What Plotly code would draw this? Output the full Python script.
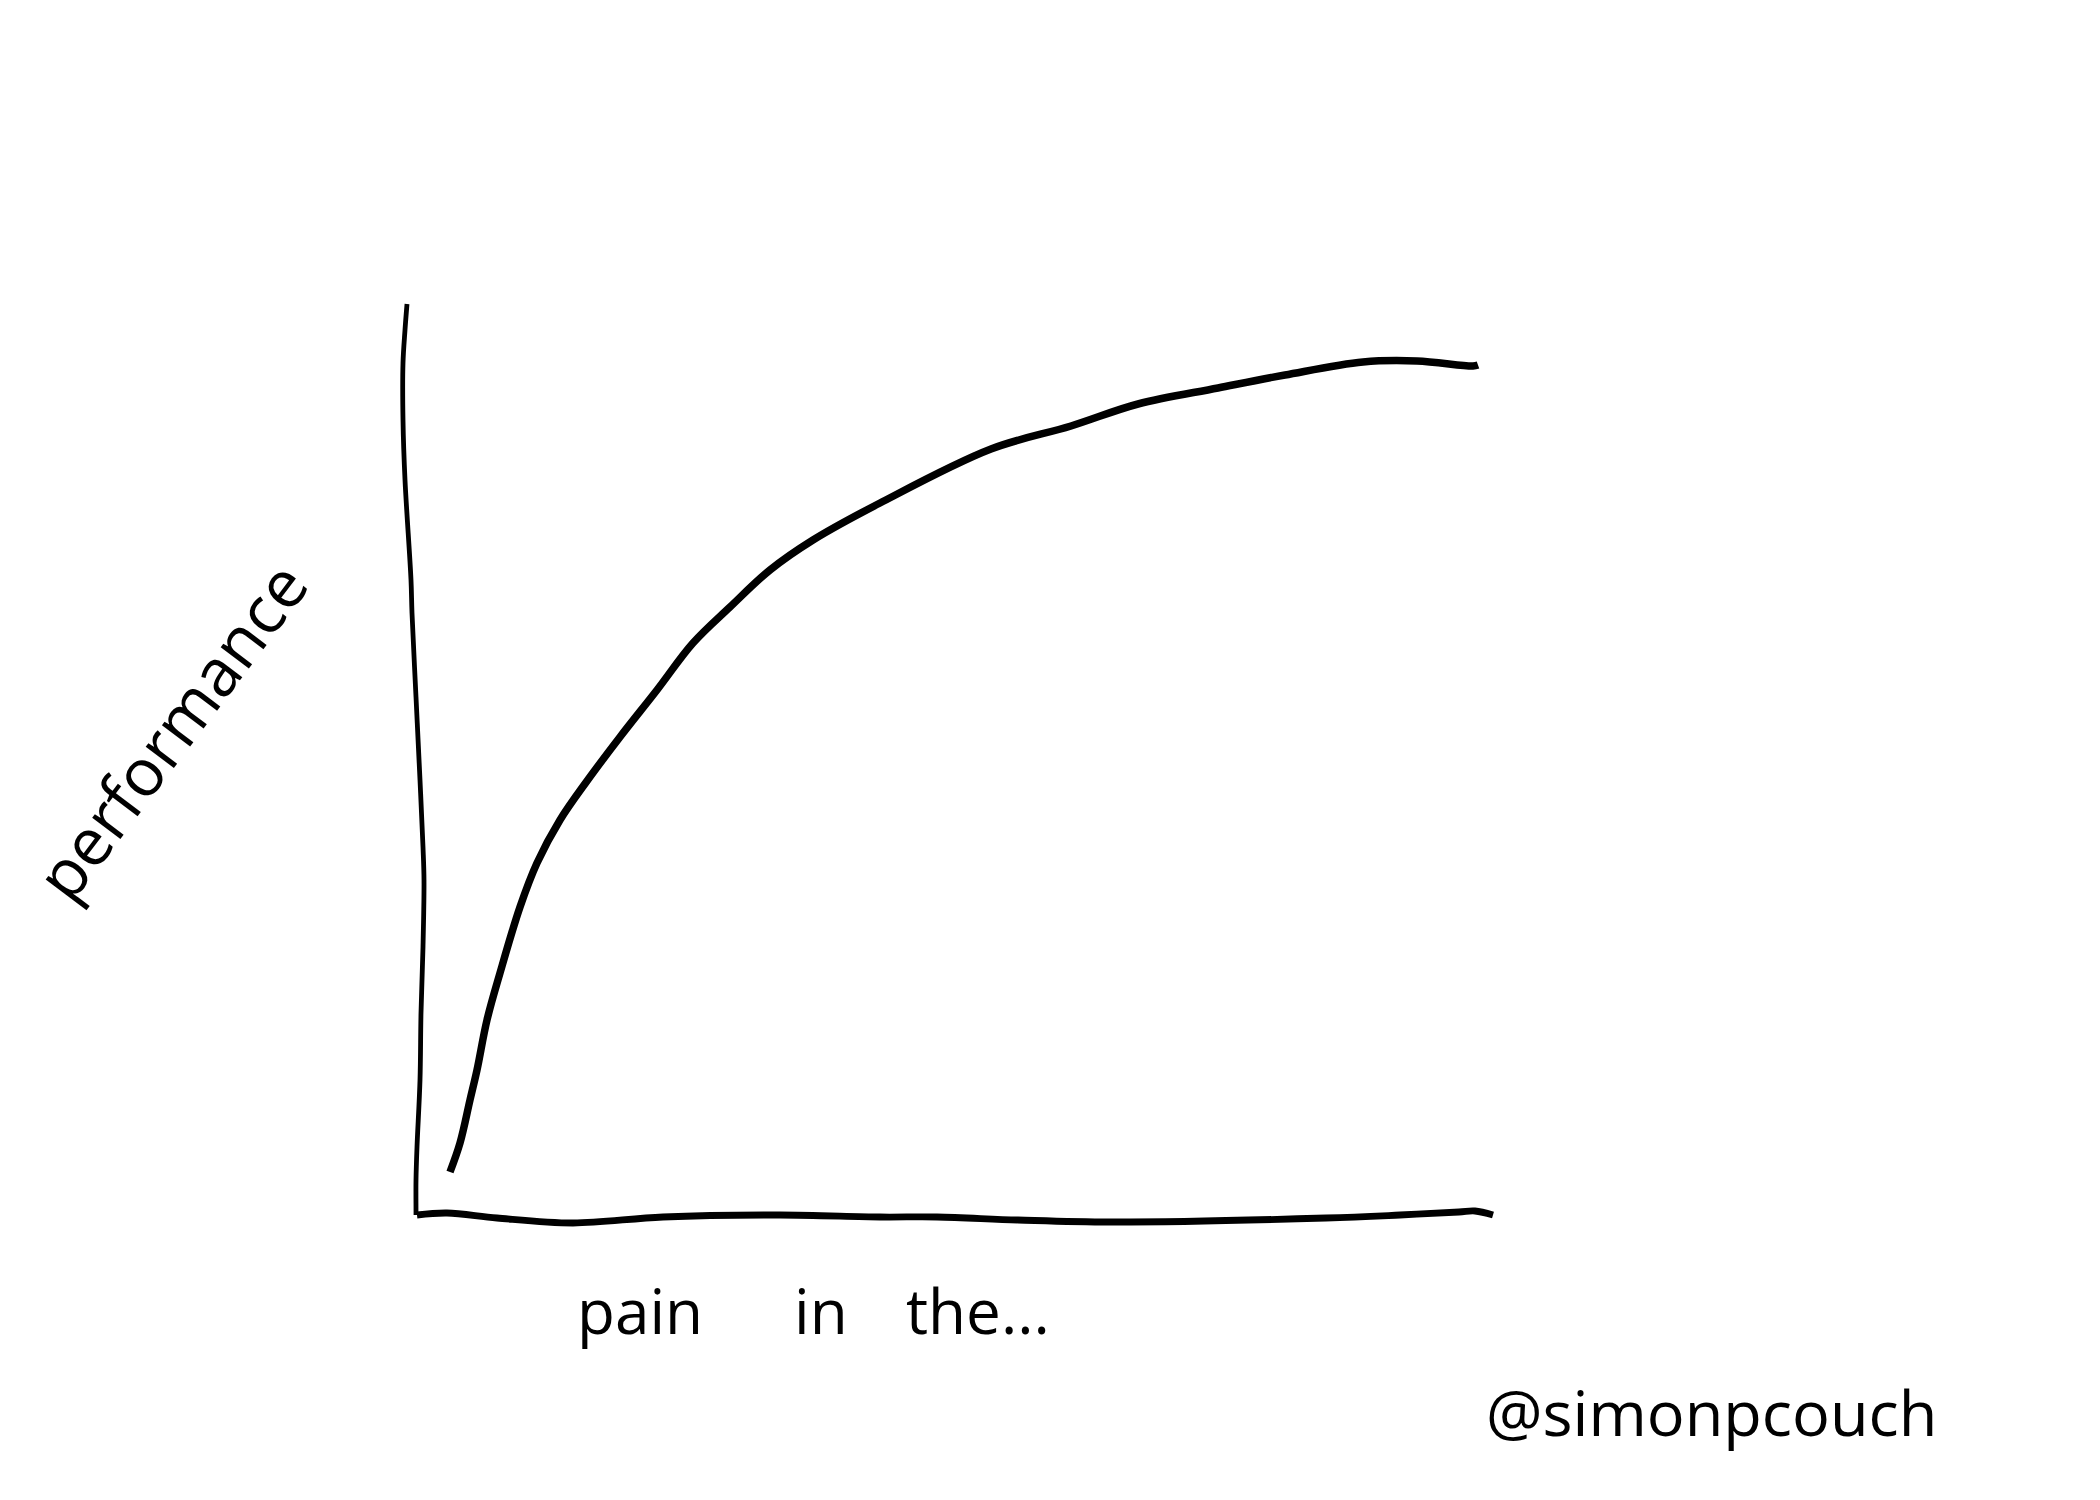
import plotly.graph_objects as go

# Hand-drawn curve: performance vs "pain in the..." (arbitrary sketch units)
curve_pain = [3.4, 4.4, 5.4, 6.1, 7.1, 8.4, 10.4, 12.1, 14.4, 17.1, 20.4, 24.1, 27.7,
              31.4, 35.4, 39.7, 46.4, 57.5, 65.5, 72.2, 80.2, 86.9, 94.7, 100.1, 105.7, 106.2]
curve_perf = [4.4, 7.3, 11.6, 14.6, 19.6, 24.3, 30.9, 35.3, 39.6, 43.5, 47.9, 52.6, 57.3,
              60.9, 64.6, 67.6, 71.3, 76.7, 79.0, 81.2, 82.8, 84.1, 85.4, 85.5, 85.0, 85.1]

# Hand-drawn vertical axis line
yaxis_x = [-0.9, -1.1, -1.3, -1.3, -1.1, -0.5, -0.4, 0.0, 0.4, 0.7, 0.8, 0.7, 0.5, 0.4, 0.1, 0.0, 0.0, 0.0]
yaxis_y = [91.2, 88.6, 85.3, 79.6, 73.6, 63.6, 60.3, 51.9, 43.6, 36.9, 33.6, 26.9, 20.3, 13.6, 6.9, 3.6, 0.6, 0.1]

# Hand-drawn horizontal axis line
xaxis_x = [0.1, 3.1, 8.1, 15.7, 24.7, 36.4, 46.4, 52.1, 60.2, 69.5, 91.0, 98.4, 104.3, 105.9, 107.7]
xaxis_y = [0.1, 0.3, -0.2, -0.7, -0.1, 0.1, -0.1, -0.1, -0.4, -0.6, -0.2, 0.1, 0.4, 0.5, 0.1]

y_label = "performance"
x_label_words = ["pain", "in", "the..."]
x_label_pos = [22.4, 40.5, 56.2]
signature = "@simonpcouch"

FONT = "Open Sans"

fig = go.Figure()
fig.add_trace(go.Scatter(x=yaxis_x, y=yaxis_y, mode="lines",
                         line=dict(color="black", width=4.8, shape="spline", smoothing=1.0),
                         hoverinfo="skip"))
fig.add_trace(go.Scatter(x=xaxis_x, y=xaxis_y, mode="lines",
                         line=dict(color="black", width=6.8, shape="spline", smoothing=1.0),
                         hoverinfo="skip"))
fig.add_trace(go.Scatter(x=curve_pain, y=curve_perf, mode="lines",
                         line=dict(color="black", width=7.5, shape="spline", smoothing=1.0),
                         hoverinfo="skip"))

annotations = [
    dict(x=-24.6, y=48.6, text=y_label, textangle=-53, showarrow=False,
         font=dict(family=FONT, size=66, color="black"), xanchor="center", yanchor="middle"),
]
for w, px in zip(x_label_words, x_label_pos):
    annotations.append(dict(x=px, y=-9.4, text=w, showarrow=False,
                            font=dict(family=FONT, size=62, color="black"),
                            xanchor="center", yanchor="middle"))
annotations.append(dict(x=129.5, y=-19.5, text=signature, showarrow=False,
                        font=dict(family=FONT, size=63, color="black"),
                        xanchor="center", yanchor="middle"))

fig.update_layout(
    width=2100, height=1500, autosize=False,
    margin=dict(l=0, r=0, t=0, b=0),
    paper_bgcolor="white", plot_bgcolor="white",
    showlegend=False,
    # ranges account for the 8px default page margin of the HTML body
    xaxis=dict(range=[-40.8, 169.2], visible=False, fixedrange=True),
    yaxis=dict(range=[-29.2, 120.8], visible=False, fixedrange=True),
    annotations=annotations,
)

fig.write_html("out.html")
